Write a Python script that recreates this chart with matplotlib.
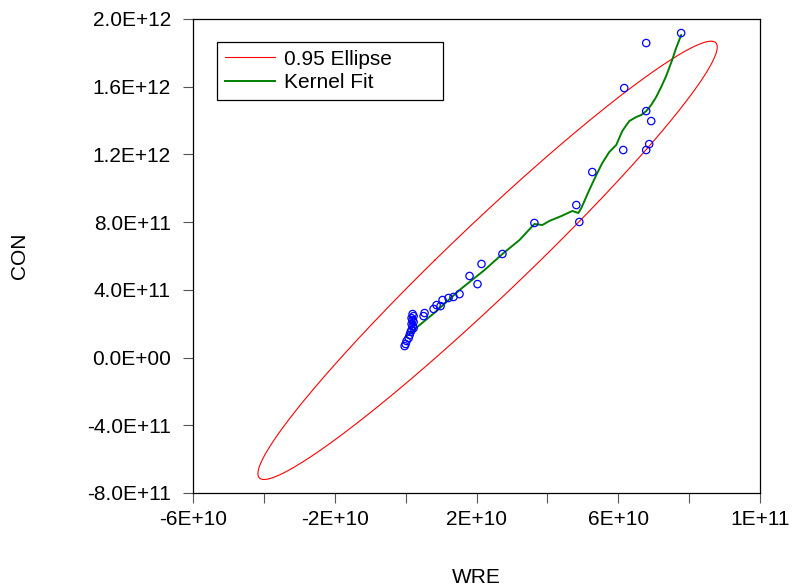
import numpy as np
import matplotlib
matplotlib.use("Agg")
import matplotlib.pyplot as plt
from matplotlib.ticker import FuncFormatter, FixedLocator

plt.rcParams['font.family'] = ['Liberation Sans', 'DejaVu Sans']

# scatter data (WRE, CON)
wre = np.array([7.775, 6.789, 6.169, 6.789, 6.930, 6.873, 6.789, 6.141, 5.268,
                4.817, 4.901, 3.634, 2.732, 2.141, 1.803, 2.028,
                1.521, 1.352, 1.211, 1.042, 0.986, 0.873, 0.789, 0.535, 0.507,
                0.197, 0.225, 0.169, 0.197, 0.225, 0.169, 0.197, 0.225, 0.169,
                0.141, 0.113, 0.085, 0.028, 0.000, -0.028]) * 1e10
con = np.array([19.17, 18.58, 15.92, 14.56, 13.97, 12.61, 12.26, 12.26, 10.96,
                9.01, 8.01, 7.95, 6.12, 5.53, 4.82, 4.34,
                3.75, 3.58, 3.52, 3.40, 3.04, 3.10, 2.87, 2.63, 2.45,
                2.57, 2.45, 2.33, 2.22, 2.10, 1.98, 1.86, 1.74, 1.63,
                1.51, 1.33, 1.15, 0.98, 0.80, 0.68]) * 1e11

# kernel fit curve
kern_x = np.array([0.0, 0.394, 0.873, 1.521, 2.225, 2.732, 3.211, 3.634, 3.859,
                   4.056, 4.394, 4.704, 4.873, 4.958, 5.183, 5.380, 5.549, 5.746,
                   5.944, 6.113, 6.310, 6.507, 6.648, 6.789, 6.930, 7.070, 7.211,
                   7.352, 7.521, 7.634, 7.775]) * 1e10
kern_y = np.array([1.21, 1.92, 2.75, 3.99, 5.17, 6.12, 6.94, 7.89, 7.83,
                   8.07, 8.36, 8.66, 8.54, 8.83, 9.90, 10.78, 11.49, 12.14,
                   12.56, 13.38, 13.97, 14.21, 14.33, 14.56, 14.92, 15.39, 15.98,
                   16.63, 17.58, 18.29, 19.05]) * 1e11

x_major = [-6e10, -2e10, 2e10, 6e10, 1e11]
x_minor = [-4e10, 0, 4e10, 8e10]
y_ticks = [-8e11, -4e11, 0, 4e11, 8e11, 1.2e12, 1.6e12, 2e12]

# 0.95 confidence ellipse from sample mean / covariance
mu = np.array([wre.mean(), con.mean()])
cov = np.cov(wre, con)
k = np.sqrt(-2 * np.log(0.05))
vals, vecs = np.linalg.eigh(cov)
t = np.linspace(0, 2 * np.pi, 400)
circ = np.vstack([np.cos(t), np.sin(t)])
ell = vecs @ (np.sqrt(vals)[:, None] * circ) * k + mu[:, None]

FS = 15

fig = plt.figure(figsize=(7.98, 5.87), dpi=100)
ax = fig.add_axes([193 / 798, 1 - 493 / 587, 567 / 798, 474 / 587])

ax.plot(ell[0], ell[1], color='#FF0000', lw=0.8, label='0.95 Ellipse')
ax.plot(kern_x, kern_y, color='#008000', lw=1.4, label='Kernel Fit')
ax.scatter(wre, con, s=28, facecolors='none', edgecolors='#0000FF', lw=0.9, zorder=3)

ax.set_xlim(-6e10, 1e11)
ax.set_ylim(-8e11, 2e12)
ax.xaxis.set_major_locator(FixedLocator(x_major))
ax.xaxis.set_minor_locator(FixedLocator(x_minor))
ax.yaxis.set_major_locator(FixedLocator(y_ticks))
ax.xaxis.set_major_formatter(FuncFormatter(lambda v, p: '{:.0E}'.format(v)))
ax.yaxis.set_major_formatter(FuncFormatter(lambda v, p: '{:.1E}'.format(v)))
ax.tick_params(axis='both', which='both', direction='out', length=7, width=0.8,
               color='#555555', labelsize=FS)
ax.tick_params(axis='y', pad=9)
ax.tick_params(axis='x', pad=5)
for s in ax.spines.values():
    s.set_linewidth(0.9)

ax.set_xlabel('WRE', fontsize=FS, labelpad=28)
ax.set_ylabel('CON', fontsize=FS, labelpad=42)

leg_top = 1 - 23 / 474
leg = ax.legend(loc='upper left', bbox_to_anchor=(24 / 567, leg_top - 0.1, 226 / 567, 0.1),
                mode='expand', fontsize=FS, frameon=True, fancybox=False,
                edgecolor='black', framealpha=1, handlelength=2.4, borderpad=0.37,
                labelspacing=0.2, handletextpad=0.45, borderaxespad=0)
leg.get_frame().set_linewidth(0.9)

fig.savefig('out.png', dpi=100)
